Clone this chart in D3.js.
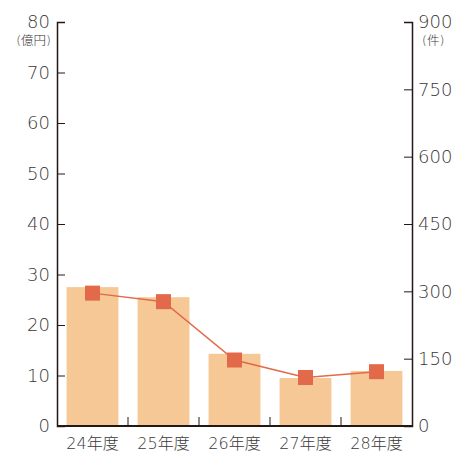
<!DOCTYPE html>
<html lang="ja">
<head>
<meta charset="UTF-8" />
<title>億円 / 件</title>
<script src="https://d3js.org/d3.v7.min.js"></script>
<style>
  body { margin: 0; background: #fff; }
  text { font-family: "DejaVu Sans", "Noto Sans CJK JP", sans-serif; font-weight: 200; fill: #3a3838; }
</style>
</head>
<body>
<svg width="458" height="452"></svg>
<script>
  const years = ["24年度", "25年度", "26年度", "27年度", "28年度"];
  const amounts = [27.5, 25.5, 14.3, 9.5, 10.9];   // 億円 (bars, left axis)
  const counts = [296, 277, 147, 108, 121];        // 件 (line, right axis)
  const leftTicks = [0, 10, 20, 30, 40, 50, 60, 70, 80];
  const rightTicks = [0, 150, 300, 450, 600, 750, 900];

  const margin = { top: 22, right: 46, bottom: 26, left: 57 },
        width = 458 - margin.left - margin.right,
        height = 452 - margin.top - margin.bottom;

  const svg = d3.select("svg")
    .append("g")
    .attr("transform", `translate(${margin.left},${margin.top})`);

  const x = d3.scaleBand().domain(years).range([0, width]).paddingInner(0.27).paddingOuter(0.135);
  const xb = d3.scaleBand().domain(years).range([0, width]);
  const yL = d3.scaleLinear().domain([0, 80]).range([height, 0]);
  const yR = d3.scaleLinear().domain([0, 900]).range([height, 0]);

  const axisColor = "#231815";

  // bars
  svg.selectAll(".bar")
    .data(years)
    .enter()
    .append("rect")
    .attr("x", d => x(d))
    .attr("width", x.bandwidth())
    .attr("y", (d, i) => yL(amounts[i]))
    .attr("height", (d, i) => height - yL(amounts[i]))
    .attr("fill", "#f5c895");

  // left axis
  const gl = svg.append("g")
    .call(d3.axisLeft(yL).tickValues(leftTicks).tickSize(-8).tickPadding(7));
  gl.select(".domain").attr("stroke", axisColor).attr("stroke-width", 1.5);
  gl.selectAll(".tick line").attr("stroke", axisColor);
  gl.selectAll(".tick text").style("font-size", "18px").attr("fill", "#3a3838").attr("font-family", null);

  // right axis
  const gr = svg.append("g")
    .attr("transform", `translate(${width},0)`)
    .call(d3.axisRight(yR).tickValues(rightTicks).tickSize(-8).tickPadding(6));
  gr.select(".domain").attr("stroke", axisColor).attr("stroke-width", 1.5);
  gr.selectAll(".tick line").attr("stroke", axisColor);
  gr.selectAll(".tick text").style("font-size", "18px").attr("fill", "#3a3838").attr("font-family", null);

  // bottom axis with separator ticks
  svg.append("line")
    .attr("x1", 0).attr("x2", width)
    .attr("y1", height).attr("y2", height)
    .attr("stroke", axisColor).attr("stroke-width", 2);
  svg.selectAll(".sep")
    .data(years.slice(1))
    .enter()
    .append("line")
    .attr("x1", d => xb(d)).attr("x2", d => xb(d))
    .attr("y1", height).attr("y2", height - 9)
    .attr("stroke", axisColor);
  svg.selectAll(".xlabel")
    .data(years)
    .enter()
    .append("text")
    .attr("x", d => xb(d) + xb.bandwidth() / 2)
    .attr("y", height + 23)
    .attr("text-anchor", "middle")
    .style("font-size", "16px")
    .text(d => d);

  // line + markers
  const line = d3.line()
    .x((d, i) => xb(years[i]) + xb.bandwidth() / 2)
    .y(d => yR(d));
  svg.append("path")
    .datum(counts)
    .attr("d", line)
    .attr("fill", "none")
    .attr("stroke", "#e2694a")
    .attr("stroke-width", 1.5);
  svg.selectAll(".mark")
    .data(counts)
    .enter()
    .append("rect")
    .attr("x", (d, i) => xb(years[i]) + xb.bandwidth() / 2 - 7.5)
    .attr("y", d => yR(d) - 7.5)
    .attr("width", 15)
    .attr("height", 15)
    .attr("fill", "#e2694a");

  // unit labels
  svg.append("text")
    .attr("x", -6).attr("y", 23)
    .attr("text-anchor", "end")
    .style("font-size", "12.5px")
    .text("(億円)");
  svg.append("text")
    .attr("x", width + 10).attr("y", 23)
    .style("font-size", "12.5px")
    .text("(件)");
</script>
</body>
</html>
